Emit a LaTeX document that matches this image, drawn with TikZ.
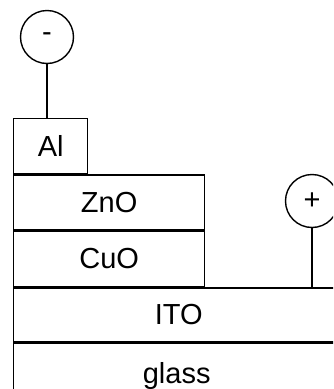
\documentclass[tikz,border=0pt]{standalone}
\usepackage{fontspec}
\setmainfont{Liberation Sans}
\usetikzlibrary{positioning}

\begin{document}
\begin{tikzpicture}[
  x=1pt, y=-1pt, line width=1.4pt, font=\fontsize{29}{32}\selectfont,
  layer/.style={draw, rectangle, inner sep=0pt, minimum height=55pt, anchor=north west},
  pole/.style={draw, circle, inner sep=0pt, minimum size=53pt},
]
\useasboundingbox (0,0) rectangle (333,389);
\clip (0,0) rectangle (333,389);
\node[layer, minimum width=74pt] (al) at (13,118) {Al};
\node[layer, minimum width=191pt] (zno) at (al.south west) {ZnO};
\node[layer, minimum width=191pt] (cuo) at (zno.south west) {CuO};
\node[layer, minimum width=330pt, minimum height=54pt] (ito) at (cuo.south west) {ITO};
\node[layer, minimum width=326pt, minimum height=60pt, text depth=0pt] (glass) at (ito.south west) {glass};
\node[pole] (minus) at (47,37) {-};
\node[pole] (plus) at (312,201) {+};
\draw (minus.south) -- (minus.south |- al.north);
\draw (plus.south) -- (plus.south |- ito.north);
\end{tikzpicture}
\end{document}
